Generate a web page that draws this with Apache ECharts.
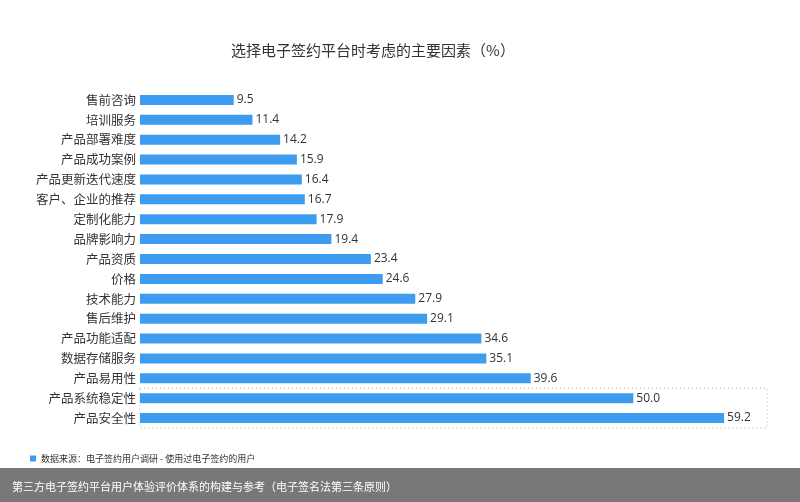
<!DOCTYPE html>
<html><head><meta charset="utf-8">
<script src="https://cdn.jsdelivr.net/npm/echarts@6/dist/echarts.min.js"></script>
<style>html,body{margin:0;padding:0;background:#fff}#c{width:800px;height:502px}</style>
</head><body><div id="c"></div>
<script>
var categories = ['产品安全性','产品系统稳定性','产品易用性','数据存储服务','产品功能适配','售后维护','技术能力','价格','产品资质','品牌影响力','定制化能力','客户、企业的推荐','产品更新迭代速度','产品成功案例','产品部署难度','培训服务','售前咨询'];
var values = [59.2,50.0,39.6,35.1,34.6,29.1,27.9,24.6,23.4,19.4,17.9,16.7,16.4,15.9,14.2,11.4,9.5];
var seriesName = '数据来源：电子签约用户调研 - 使用过电子签约的用户';
var titleText = '选择电子签约平台时考虑的主要因素（%）';
var footerText = '第三方电子签约平台用户体验评价体系的构建与参考（电子签名法第三条原则）';
var highlighted = ['产品系统稳定性','产品安全性'];

(function(){
var chart = echarts.init(document.getElementById('c'));
var font = '"Noto Sans CJK SC", "Noto Sans", sans-serif';
chart.setOption({
  animation:false,
  textStyle:{fontFamily:font},
  title:{text:titleText,left:368,top:38,textAlign:'center',textStyle:{fontSize:15,fontWeight:'normal',color:'#333',fontFamily:font}},
  legend:{data:[seriesName],left:30,top:454,padding:0,icon:'rect',itemWidth:6,itemHeight:6,itemGap:4,textStyle:{fontSize:9,color:'#333',fontFamily:font}},
  grid:{left:140,right:68,top:90,bottom:74,containLabel:false},
  xAxis:{type:'value',min:0,max:60,show:false},
  yAxis:{type:'category',data:categories,axisLine:{show:false},axisTick:{show:false},
    axisLabel:{fontSize:12.5,color:'#333',margin:4,fontFamily:font}},
  series:[{name:seriesName,type:'bar',data:values,barWidth:10,itemStyle:{color:'#3d9cf0'},
    label:{show:true,position:'right',distance:3,fontSize:12,color:'#333',fontFamily:'"Open Sans", sans-serif',formatter:function(p){return p.value.toFixed(1);}}}]
});
var y1 = chart.convertToPixel({yAxisIndex:0}, highlighted[0]);
var y2 = chart.convertToPixel({yAxisIndex:0}, highlighted[1]);
var band = Math.abs(y2-y1);
var boxTop = Math.min(y1,y2)-band/2;
chart.setOption({graphic:[
  {type:'rect',shape:{x:140,y:boxTop,width:627,height:band*2},style:{fill:'none',stroke:'#aaa',lineWidth:1,lineDash:[1,3]}},
  {type:'rect',left:0,bottom:0,shape:{width:800,height:34},style:{fill:'#787878'}},
  {type:'text',left:12,bottom:10,style:{text:footerText,fill:'#fff',fontSize:11,fontFamily:font}}
]});
})();
</script></body></html>
